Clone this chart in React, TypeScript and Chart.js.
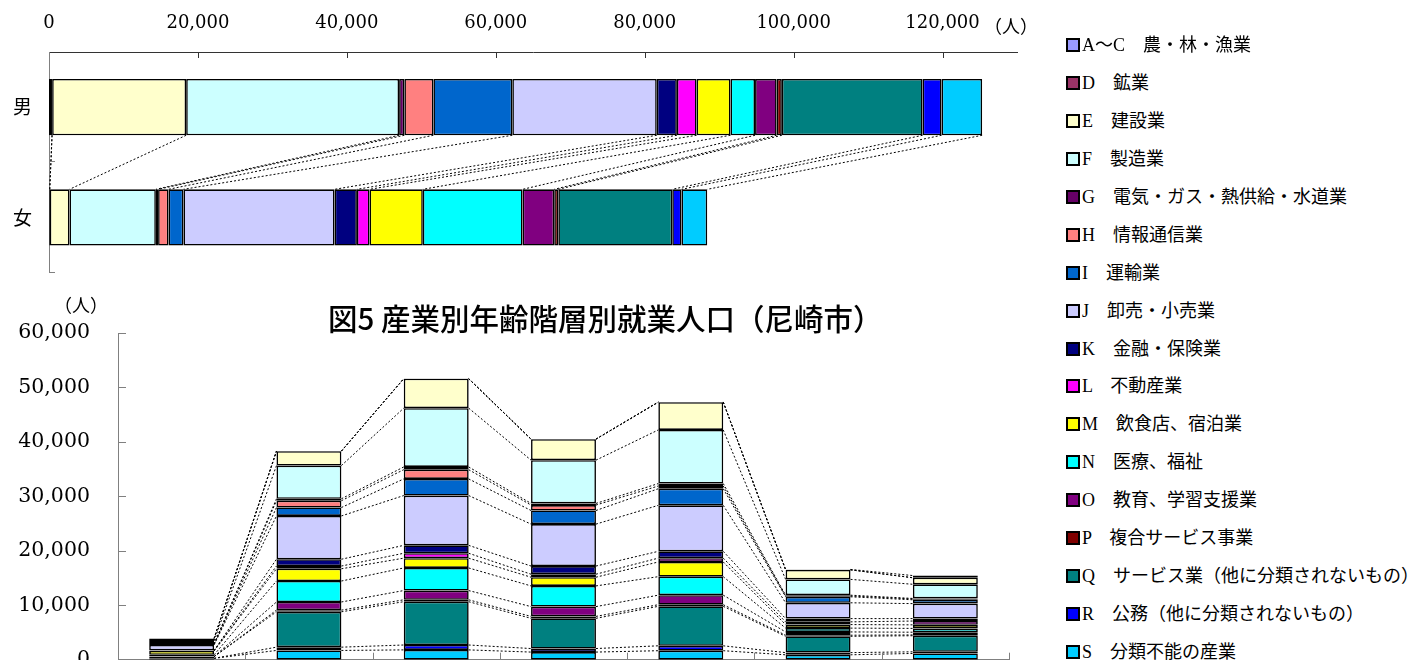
import React, { useEffect, useRef } from 'react';
import { Chart, registerables } from 'chart.js';

Chart.register(...registerables);

// ---------- data ----------
const industries = [
  'A～C　農・林・漁業',
  'D　鉱業',
  'E　建設業',
  'F　製造業',
  'G　電気・ガス・熱供給・水道業',
  'H　情報通信業',
  'I　運輸業',
  'J　卸売・小売業',
  'K　金融・保険業',
  'L　不動産業',
  'M　飲食店、宿泊業',
  'N　医療、福祉',
  'O　教育、学習支援業',
  'P　複合サービス事業',
  'Q　サービス業（他に分類されないもの）',
  'R　公務（他に分類されないもの）',
  'S　分類不能の産業',
];
const colors = [
  '#9999FF', '#993366', '#FFFFCC', '#CCFFFF', '#660066', '#FF8080', '#0066CC', '#CCCCFF',
  '#000080', '#FF00FF', '#FFFF00', '#00FFFF', '#800080', '#800000', '#008080', '#0000FF', '#00CCFF',
];

const sexLabels = ['男', '女'];
//              A-C   D     E      F      G    H     I      J      K     L     M     N      O     P    Q      R     S
const male = [400, 20, 18000, 28600, 700, 3900, 10600, 19400, 2700, 2650, 4550, 3300, 2900, 700, 18900, 2550, 5450];
const female = [100, 0, 2650, 11600, 300, 1400, 2000, 20300, 3000, 1700, 7150, 13400, 4250, 550, 15300, 1250, 3450];

const ageLabels = ['15～19歳', '20～29歳', '30～39歳', '40～49歳', '50～59歳', '60～64歳', '65歳以上'];
const age15_19 = [5, 0, 450, 550, 10, 30, 150, 1000, 60, 60, 700, 300, 30, 5, 300, 10, 250];
const age20_29 = [30, 0, 2650, 6100, 350, 1250, 1550, 7950, 1250, 500, 2250, 3850, 1500, 300, 6500, 600, 1700];
const age30_39 = [30, 0, 5400, 10800, 500, 1700, 3050, 9150, 1450, 900, 1800, 4150, 1700, 350, 7950, 900, 1800];
const age40_49 = [30, 0, 3850, 7950, 300, 1000, 2500, 7700, 1500, 550, 1600, 3800, 1800, 350, 5550, 650, 1400];
const age50_59 = [40, 0, 5100, 9850, 450, 500, 3050, 8450, 1250, 700, 2700, 3400, 1750, 300, 7250, 900, 1650];
const age60_64 = [80, 0, 1750, 2900, 150, 150, 1100, 2900, 600, 500, 650, 700, 600, 200, 3000, 400, 900];
const age65_over = [400, 0, 1200, 2600, 100, 150, 700, 2750, 450, 700, 650, 700, 500, 150, 2950, 300, 1150];
const ageSeries = [age15_19, age20_29, age30_39, age40_49, age50_59, age60_64, age65_over];

const topAxisMax = 130000;
const topTickValues = [0, 20000, 40000, 60000, 80000, 100000, 120000];
const bottomAxisMax = 60000;
const bottomTickValues = [0, 10000, 20000, 30000, 40000, 50000, 60000];

const titleText = '図5 産業別年齢階層別就業人口（尼崎市）';
const unitText = '（人）';

// ---------- plugins ----------
const seriesLines = (horizontal: boolean) => ({
  id: 'seriesLines',
  afterDatasetsDraw(chart: any) {
    const ctx = chart.ctx;
    ctx.save();
    ctx.setLineDash([2, 2]);
    ctx.strokeStyle = '#000';
    ctx.lineWidth = 1;
    chart.data.datasets.forEach((_ds: any, di: number) => {
      const els = chart.getDatasetMeta(di).data as any[];
      for (let i = 0; i < els.length - 1; i++) {
        const a = els[i];
        const b = els[i + 1];
        ctx.beginPath();
        if (horizontal) {
          ctx.moveTo(a.x, a.y + a.height / 2);
          ctx.lineTo(b.x, b.y - b.height / 2);
        } else {
          ctx.moveTo(a.x + a.width / 2, a.y);
          ctx.lineTo(b.x - b.width / 2, b.y);
        }
        ctx.stroke();
      }
    });
    ctx.restore();
  },
});

const topTicks = {
  id: 'topTicks',
  afterDraw(chart: any) {
    const { ctx, chartArea, scales } = chart;
    const { left, top, bottom } = chartArea;
    ctx.save();
    ctx.lineWidth = 1;
    ctx.strokeStyle = '#333';
    ctx.beginPath();
    scales.x.ticks.forEach((t: any) => {
      if (t.value === 0) return;
      const px = Math.round(scales.x.getPixelForValue(t.value)) + 0.5;
      ctx.moveTo(px, top);
      ctx.lineTo(px, top + 6);
    });
    ctx.stroke();
    ctx.strokeStyle = '#808080';
    ctx.beginPath();
    const n = chart.data.labels.length;
    for (let k = 1; k <= n; k++) {
      const py = Math.round(top + ((bottom - top) * k) / n) - 0.5;
      ctx.moveTo(left, py);
      ctx.lineTo(left + 6, py);
    }
    ctx.stroke();
    ctx.restore();
  },
};

const bottomTicks = {
  id: 'bottomTicks',
  afterDraw(chart: any) {
    const { ctx, chartArea, scales } = chart;
    const { left, right, bottom } = chartArea;
    ctx.save();
    ctx.lineWidth = 1;
    ctx.strokeStyle = '#808080';
    ctx.beginPath();
    scales.y.ticks.forEach((t: any) => {
      const py = Math.round(scales.y.getPixelForValue(t.value)) + 0.5;
      ctx.moveTo(left, py);
      ctx.lineTo(left + 8, py);
    });
    const n = chart.data.labels.length;
    for (let k = 1; k <= n; k++) {
      const px = Math.round(left + ((right - left) * k) / n) + 0.5;
      ctx.moveTo(px, bottom);
      ctx.lineTo(px, bottom - 7);
    }
    ctx.stroke();
    ctx.restore();
  },
};

const fmt = (v: any) => Number(v).toLocaleString('en-US');

export default function App() {
  const topRef = useRef<HTMLCanvasElement>(null);
  const botRef = useRef<HTMLCanvasElement>(null);

  useEffect(() => {
    const top = new Chart(topRef.current as HTMLCanvasElement, {
      type: 'bar',
      data: {
        labels: sexLabels,
        datasets: industries.map((name, i) => ({
          label: name,
          data: [male[i], female[i]],
          backgroundColor: colors[i],
          borderColor: '#000',
          borderWidth: 1.6,
          borderSkipped: false,
          barPercentage: 0.51,
          categoryPercentage: 1,
        })),
      },
      options: {
        indexAxis: 'y',
        responsive: false,
        animation: false,
        layout: { padding: { top: 0, right: 23, bottom: 0, left: 0 } },
        plugins: { legend: { display: false }, tooltip: { enabled: false } },
        scales: {
          x: {
            position: 'top',
            stacked: true,
            min: 0,
            max: topAxisMax,
            grid: { display: false, drawTicks: false },
            border: { display: true, color: '#333', width: 1 },
            afterBuildTicks: (s: any) => { s.ticks = topTickValues.map((v) => ({ value: v })); },
            ticks: {
              autoSkip: false,
              maxRotation: 0,
              padding: 17.5,
              color: '#000',
              font: { family: '"DejaVu Serif"', size: 18 },
              callback: (v: any) => fmt(v),
            },
            afterFit: (s: any) => { s.height = 52; },
          },
          y: {
            stacked: true,
            grid: { display: false, drawTicks: false },
            border: { display: true, color: '#808080', width: 1 },
            ticks: {
              padding: 17,
              color: '#000',
              font: { family: '"Noto Sans CJK JP"', size: 19 },
            },
            afterFit: (s: any) => { s.width = 49; },
          },
        },
      } as any,
      plugins: [seriesLines(true), topTicks],
    });

    const order = industries.map((_, i) => i).reverse();
    const bottom = new Chart(botRef.current as HTMLCanvasElement, {
      type: 'bar',
      data: {
        labels: ageLabels,
        datasets: order.map((i) => ({
          label: industries[i],
          data: ageSeries.map((a) => a[i]),
          backgroundColor: colors[i],
          borderColor: '#000',
          borderWidth: 1.6,
          borderSkipped: false,
          barPercentage: 0.51,
          categoryPercentage: 1,
        })),
      },
      options: {
        responsive: false,
        animation: false,
        layout: { padding: { top: 53, right: 31, bottom: 0, left: 0 } },
        plugins: { legend: { display: false }, tooltip: { enabled: false } },
        scales: {
          x: {
            stacked: true,
            grid: { display: false, drawTicks: false },
            border: { display: true, color: '#808080', width: 1 },
            ticks: { color: '#000', font: { family: '"Noto Sans CJK JP"', size: 16 } },
            afterFit: (s: any) => { s.height = 40; },
          },
          y: {
            stacked: true,
            min: 0,
            max: bottomAxisMax,
            grid: { display: false, drawTicks: false },
            border: { display: true, color: '#808080', width: 1 },
            afterBuildTicks: (s: any) => { s.ticks = bottomTickValues.map((v) => ({ value: v })); },
            ticks: {
              padding: 28,
              color: '#000',
              font: { family: '"DejaVu Serif"', size: 20.5 },
              callback: (v: any) => fmt(v),
            },
            afterFit: (s: any) => { s.width = 118; },
          },
        },
      } as any,
      plugins: [seriesLines(false), bottomTicks],
    });

    return () => {
      top.destroy();
      bottom.destroy();
    };
  }, []);

  const cjk = '"Noto Sans CJK JP", sans-serif';
  const legendFont = '"Liberation Serif", "Noto Sans CJK JP", serif';

  return (
    <div style={{ position: 'fixed', left: 0, top: 0, width: 1423, height: 660, overflow: 'hidden', background: '#fff' }}>
      <canvas ref={topRef} width={1040} height={301} style={{ position: 'absolute', left: 0, top: 0 }} />
      <canvas ref={botRef} width={1040} height={420} style={{ position: 'absolute', left: 0, top: 280 }} />
      <div style={{ position: 'absolute', left: 984, top: 14, fontFamily: cjk, fontSize: 18, lineHeight: '22px', color: '#000' }}>{unitText}</div>
      <div style={{ position: 'absolute', left: 54, top: 293, fontFamily: cjk, fontSize: 18, lineHeight: '22px', color: '#000' }}>{unitText}</div>
      <div style={{ position: 'absolute', left: 328, top: 301, fontFamily: cjk, fontSize: 29.5, fontWeight: 500, lineHeight: '33px', color: '#000', whiteSpace: 'nowrap' }}>{titleText}</div>
      {industries.map((name, i) => (
        <div key={name} style={{ position: 'absolute', left: 1066, top: 35 + i * 37.94, height: 20, display: 'flex', alignItems: 'center', whiteSpace: 'nowrap' }}>
          <span style={{ display: 'inline-block', width: 14, height: 14, boxSizing: 'border-box', border: '2px solid #000', background: colors[i], marginRight: 2 }} />
          <span style={{ fontFamily: legendFont, fontSize: 18, lineHeight: '20px', color: '#000' }}>{name}</span>
        </div>
      ))}
    </div>
  );
}
